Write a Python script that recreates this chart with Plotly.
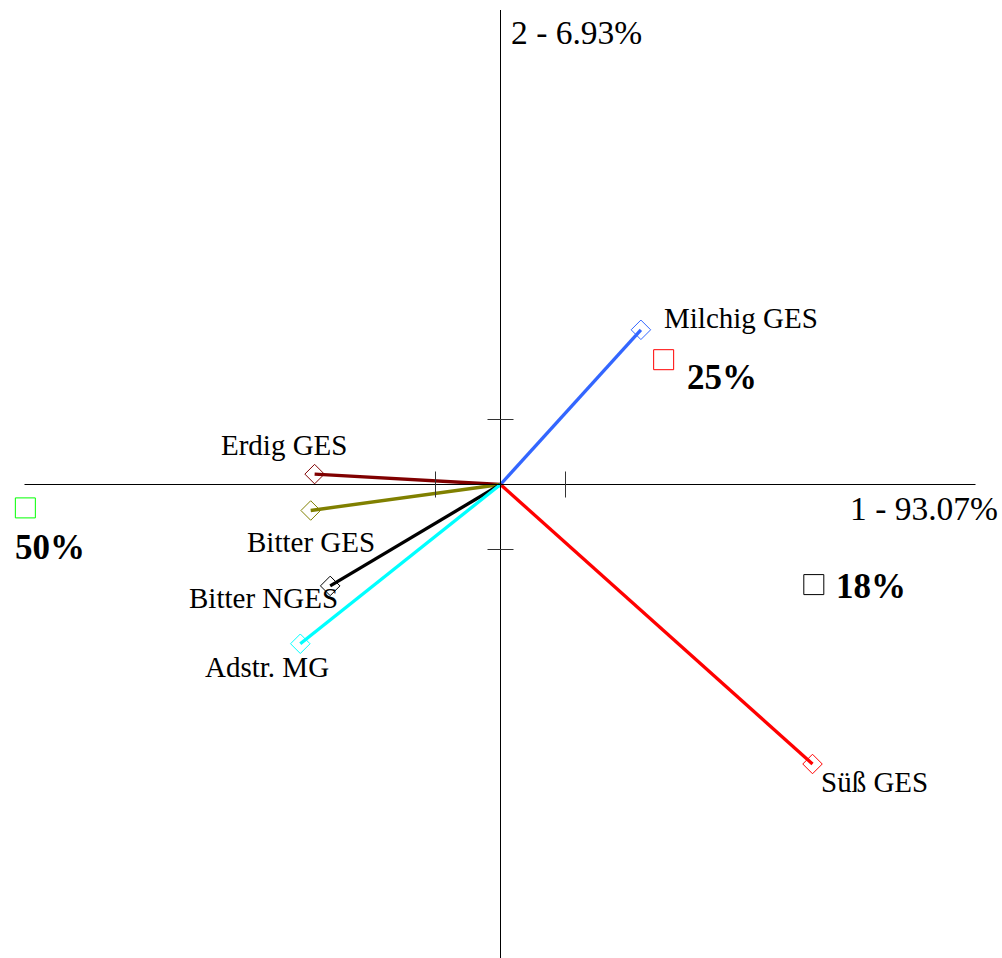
import plotly.graph_objects as go

# Variable loadings (component 1, component 2)
variables = ["Milchig GES", "Süß GES", "Erdig GES", "Bitter GES", "Bitter NGES", "Adstr. MG"]
var_x = [2.16, 4.80, -2.86, -2.92, -2.62, -3.08]
var_y = [2.38, -4.30, 0.16, -0.40, -1.56, -2.45]
var_colors = ["#3366ff", "#ff0000", "#800000", "#808000", "#000000", "#00ffff"]

# Sample scores
samples = ["50%", "25%", "18%"]
obs_x = [-7.31, 2.51, 4.82]
obs_y = [-0.36, 1.92, -1.54]
obs_colors = ["#00ff00", "#ff0000", "#000000"]

axis_titles = ["1 - 93.07%", "2 - 6.93%"]
tick_values = [-1, 1]

# label placement (pixel offsets from each point)
var_label_pos = [
    (21, 12, "left"), (6, -18, "left"), (-31, 29, "center"),
    (0, -31, "center"), (-67, -12, "center"), (-33, -23, "center"),
]
obs_label_pos = [(-12, -40, "left"), (21, -18, "left"), (20, -2, "left")]

W, H = 1002, 958
PX = 65.0                      # pixels per unit
ox, oy = 500.5, 484.5          # origin in pixels
x_range = [-ox / PX, (W - ox) / PX]
y_range = [-(H - oy) / PX, oy / PX]
x_axis_end = [-476 / PX, 475 / PX]
y_axis_end = [-(H - oy) / PX, (oy - 10) / PX]
tick_half = 13 / PX

SERIF = "Liberation Serif, Times New Roman, serif"

fig = go.Figure()

shapes = [
    dict(type="line", x0=x_axis_end[0], x1=x_axis_end[1], y0=0, y1=0,
         line=dict(color="black", width=1)),
    dict(type="line", x0=0, x1=0, y0=y_axis_end[0], y1=y_axis_end[1],
         line=dict(color="black", width=1)),
]
for t in tick_values:
    shapes.append(dict(type="line", x0=t, x1=t, y0=-tick_half, y1=tick_half,
                       line=dict(color="#333333", width=1)))
    shapes.append(dict(type="line", x0=-tick_half, x1=tick_half, y0=t, y1=t,
                       line=dict(color="#333333", width=1)))

for name, vx, vy, c in zip(variables, var_x, var_y, var_colors):
    fig.add_trace(go.Scatter(x=[0, vx], y=[0, vy], mode="lines",
                             line=dict(color=c, width=3.3), hoverinfo="skip",
                             showlegend=False))
    fig.add_trace(go.Scatter(x=[vx], y=[vy], mode="markers", name=name,
                             marker=dict(symbol="diamond-open", size=15,
                                         color=c, line=dict(width=1, color=c)),
                             showlegend=False))

fig.add_trace(go.Scatter(x=obs_x, y=obs_y, mode="markers", text=samples,
                         marker=dict(symbol="square-open", size=20,
                                     color=obs_colors,
                                     line=dict(width=1, color=obs_colors)),
                         showlegend=False))

annotations = []
for name, vx, vy, (dx, dy, anc) in zip(variables, var_x, var_y, var_label_pos):
    annotations.append(dict(x=vx, y=vy, text=name, showarrow=False,
                            xanchor=anc, yanchor="middle", xshift=dx, yshift=dy,
                            font=dict(family=SERIF, size=29, color="black")))
for s, px_, py_, (dx, dy, anc) in zip(samples, obs_x, obs_y, obs_label_pos):
    annotations.append(dict(x=px_, y=py_, text="<b>" + s + "</b>", showarrow=False,
                            xanchor=anc, yanchor="middle", xshift=dx, yshift=dy,
                            font=dict(family=SERIF, size=35, color="black")))
annotations.append(dict(x=x_axis_end[1], y=0, text=axis_titles[0], showarrow=False,
                        xanchor="right", yanchor="middle", xshift=24, yshift=-24,
                        font=dict(family=SERIF, size=33.5, color="black")))
annotations.append(dict(x=0, y=y_axis_end[1], text=axis_titles[1], showarrow=False,
                        xanchor="left", yanchor="middle", xshift=8, yshift=-22,
                        font=dict(family=SERIF, size=33.5, color="black")))

fig.update_layout(
    width=W, height=H,
    margin=dict(l=0, r=0, t=0, b=0),
    paper_bgcolor="white", plot_bgcolor="white",
    xaxis=dict(range=x_range, visible=False, showgrid=False, zeroline=False),
    yaxis=dict(range=y_range, visible=False, showgrid=False, zeroline=False),
    shapes=shapes, annotations=annotations,
)

fig.write_html("out.html")
